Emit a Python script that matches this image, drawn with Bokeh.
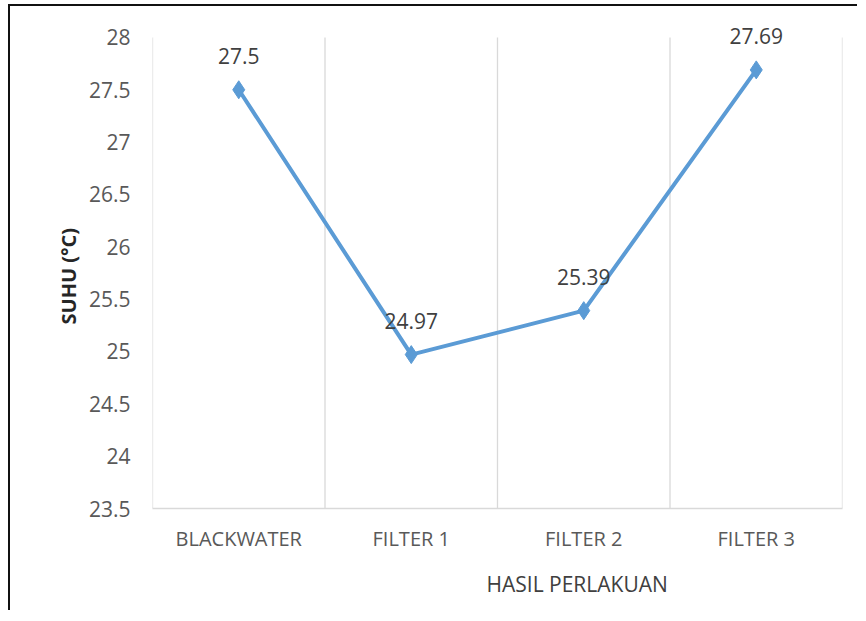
from bokeh.plotting import figure
from bokeh.models import FactorRange, Range1d, FixedTicker, LabelSet, ColumnDataSource, Title
from bokeh.core.properties import value
from bokeh.embed import file_html
from bokeh.resources import INLINE

categories = ["BLACKWATER", "FILTER 1", "FILTER 2", "FILTER 3"]
suhu = [27.5, 24.97, 25.39, 27.69]
suhu_labels = ["27.5", "24.97", "25.39", "27.69"]
y_ticks = [23.5, 24, 24.5, 25, 25.5, 26, 26.5, 27, 27.5, 28]
y_tick_labels = ["23.5", "24", "24.5", "25", "25.5", "26", "26.5", "27", "27.5", "28"]
y_min, y_max = 23.5, 28

FONT = "Open Sans"
BLUE = "#5B9BD5"
GRID = "#d9d9d9"

source = ColumnDataSource(dict(cat=categories, val=suhu, lab=suhu_labels))

# category boundaries (synthetic categorical coordinates)
bounds = list(range(len(categories) + 1))

p = figure(x_range=FactorRange(*categories, range_padding=0),
           y_range=Range1d(y_min, y_max + 0.2),
           frame_width=690, frame_height=492,
           min_border_left=142, min_border_top=10, min_border_right=15, min_border_bottom=60,
           output_backend="svg", toolbar_location=None)
p.styles = {"border-left": "2px solid #111", "border-top": "2px solid #111",
            "margin-left": "8px", "margin-top": "4px"}
p.outline_line_color = None
p.background_fill_color = "white"
p.border_fill_color = "white"
p.xgrid.visible = False
p.ygrid.visible = False

p.segment(x0=bounds, y0=[y_min] * len(bounds), x1=bounds, y1=[y_max] * len(bounds),
          line_color=GRID, line_width=1.3)

# Y axis
p.yaxis.ticker = FixedTicker(ticks=y_ticks)
p.yaxis.major_label_overrides = {t: l for t, l in zip(y_ticks, y_tick_labels)}
p.yaxis.axis_line_color = None
p.yaxis.major_tick_line_color = None
p.yaxis.minor_tick_line_color = None
p.yaxis.major_label_standoff = 16
p.yaxis.major_label_text_font = FONT
p.yaxis.major_label_text_font_size = "21px"
p.yaxis.major_label_text_color = "#595959"

p.add_layout(Title(text="SUHU (°C)", align="left", offset=184, standoff=8,
                   text_font=FONT, text_font_size="20px", text_font_style="bold",
                   text_color="#262626"), "left")

# X axis
p.xaxis.axis_line_color = GRID
p.xaxis.axis_line_width = 1.3
p.xaxis.major_tick_line_color = None
p.xaxis.minor_tick_line_color = None
p.xaxis.major_label_standoff = 10
p.xaxis.major_label_text_font = FONT
p.xaxis.major_label_text_font_size = "20px"
p.xaxis.major_label_text_color = "#595959"

p.add_layout(Title(text="HASIL PERLAKUAN", align="left", offset=334, standoff=26,
                   text_font=FONT, text_font_size="21px", text_font_style="normal",
                   text_color="#404040"), "below")

p.line("cat", "val", source=source, line_color=BLUE, line_width=4)
p.scatter("cat", "val", source=source, marker="diamond", size=18, fill_color=BLUE, line_color=BLUE)
p.add_layout(LabelSet(x="cat", y="val", text="lab", source=source, text_font=value(FONT),
                      text_font_size=value("21px"), text_color=value("#404040"),
                      text_align="center", text_baseline="middle", y_offset=34))

open("out.html", "w").write(file_html(p, INLINE))
